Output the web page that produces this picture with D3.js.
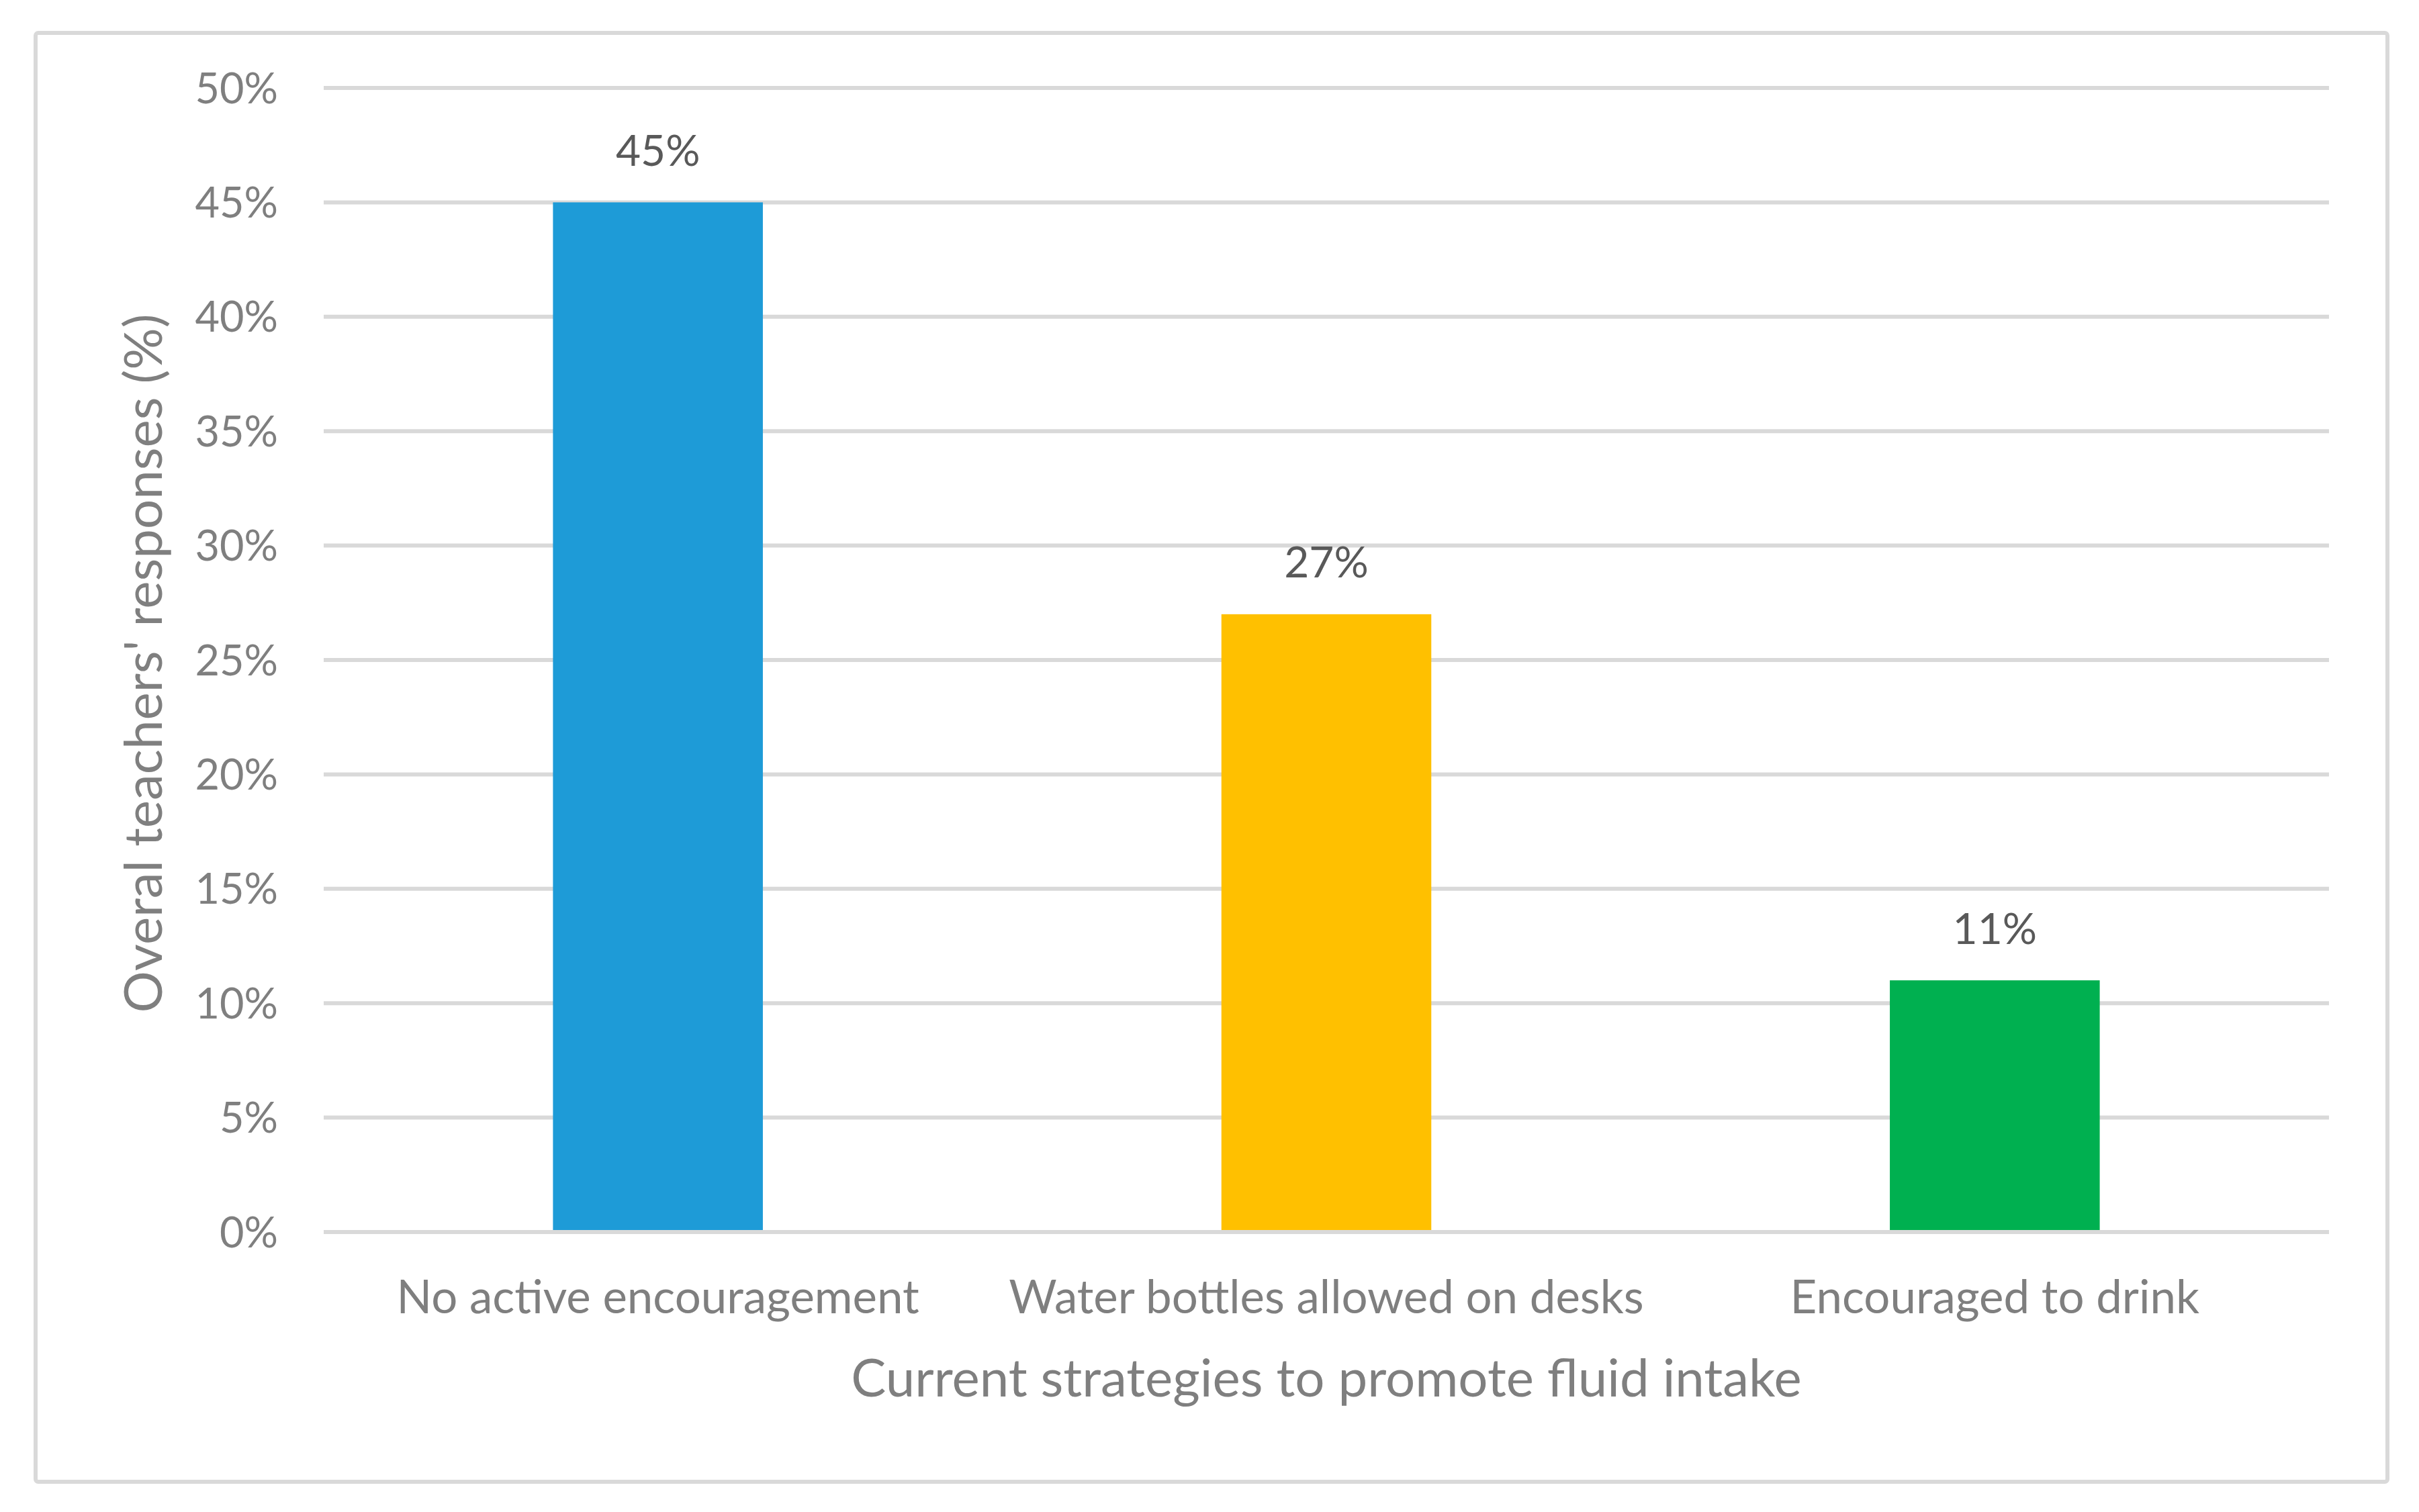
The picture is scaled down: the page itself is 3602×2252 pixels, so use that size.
<!DOCTYPE html>
<html>
<head>
<meta charset="utf-8">
<script src="https://cdn.jsdelivr.net/npm/d3@7/dist/d3.min.js"></script>
<style>
  html, body { margin: 0; padding: 0; background: #ffffff; }
  svg { display: block; }
  text { font-family: Lato, "Open Sans", sans-serif; }
</style>
</head>
<body>
<script>
// ---- data ----
const categories = ["No active encouragement", "Water bottles allowed on desks", "Encouraged to drink"];
const values = [45, 27, 11];
const barColors = ["#1E9BD7", "#FFC000", "#00B050"];
const yTicks = [0, 5, 10, 15, 20, 25, 30, 35, 40, 45, 50];
const xTitle = "Current strategies to promote fluid intake";
const yTitle = "Overal teachers' responses (%)";

// ---- layout ----
const W = 3602, H = 2252;
const plot = { left: 482, right: 3468, top: 131, bottom: 1835 };

const svg = d3.select("body").append("svg")
  .attr("width", W).attr("height", H);

svg.append("rect").attr("x", 0).attr("y", 0).attr("width", W).attr("height", H).attr("fill", "#fff");

// chart frame
svg.append("rect")
  .attr("x", 53).attr("y", 49).attr("width", 3502).attr("height", 2158)
  .attr("rx", 4)
  .attr("fill", "none").attr("stroke", "#d9d9d9").attr("stroke-width", 6);

const x = d3.scaleBand().domain(categories).range([plot.left, plot.right]).paddingInner(0.686).paddingOuter(0.343);
const y = d3.scaleLinear().domain([0, 50]).range([plot.bottom, plot.top]);

// gridlines
svg.append("g").selectAll("line").data(yTicks).join("line")
  .attr("x1", plot.left).attr("x2", plot.right)
  .attr("y1", d => y(d)).attr("y2", d => y(d))
  .attr("stroke", "#d9d9d9").attr("stroke-width", 6);

// y axis labels
const yAxis = d3.axisLeft(y).tickValues(yTicks).tickFormat(d => d + "%").tickSize(0).tickPadding(0);
const gy = svg.append("g").attr("transform", `translate(${plot.left - 68},0)`).call(yAxis);
gy.select(".domain").remove();
gy.selectAll("text").attr("font-size", 63).attr("fill", "#7f7f7f")
  .attr("font-family", "Lato, 'Open Sans', sans-serif").attr("dy", "0.35em");

// bars
svg.append("g").selectAll("rect").data(values).join("rect")
  .attr("x", (d, i) => x(categories[i]))
  .attr("y", d => y(d))
  .attr("width", x.bandwidth())
  .attr("height", d => y(0) - y(d) - 3)
  .attr("fill", (d, i) => barColors[i]);

// data labels
svg.append("g").selectAll("text").data(values).join("text")
  .attr("x", (d, i) => x(categories[i]) + x.bandwidth() / 2)
  .attr("y", d => y(d) - 77)
  .attr("dy", "0.35em")
  .attr("text-anchor", "middle")
  .attr("font-size", 64).attr("fill", "#595959")
  .text(d => d + "%");

// x axis category labels
const xAxis = d3.axisBottom(x).tickSize(0).tickPadding(0);
const gx = svg.append("g").attr("transform", `translate(0,${plot.bottom + 97})`).call(xAxis);
gx.select(".domain").remove();
gx.selectAll("text").attr("font-size", 69).attr("fill", "#7f7f7f")
  .attr("font-family", "Lato, 'Open Sans', sans-serif").attr("dy", "0.35em");

// axis titles
svg.append("text")
  .attr("x", (plot.left + plot.right) / 2).attr("y", 2053)
  .attr("dy", "0.35em").attr("text-anchor", "middle")
  .attr("font-size", 78).attr("fill", "#7f7f7f")
  .text(xTitle);

svg.append("text")
  .attr("transform", `translate(214,988) rotate(-90)`)
  .attr("dy", "0.35em").attr("text-anchor", "middle")
  .attr("font-size", 78).attr("fill", "#7f7f7f")
  .text(yTitle);
</script>
</body>
</html>
